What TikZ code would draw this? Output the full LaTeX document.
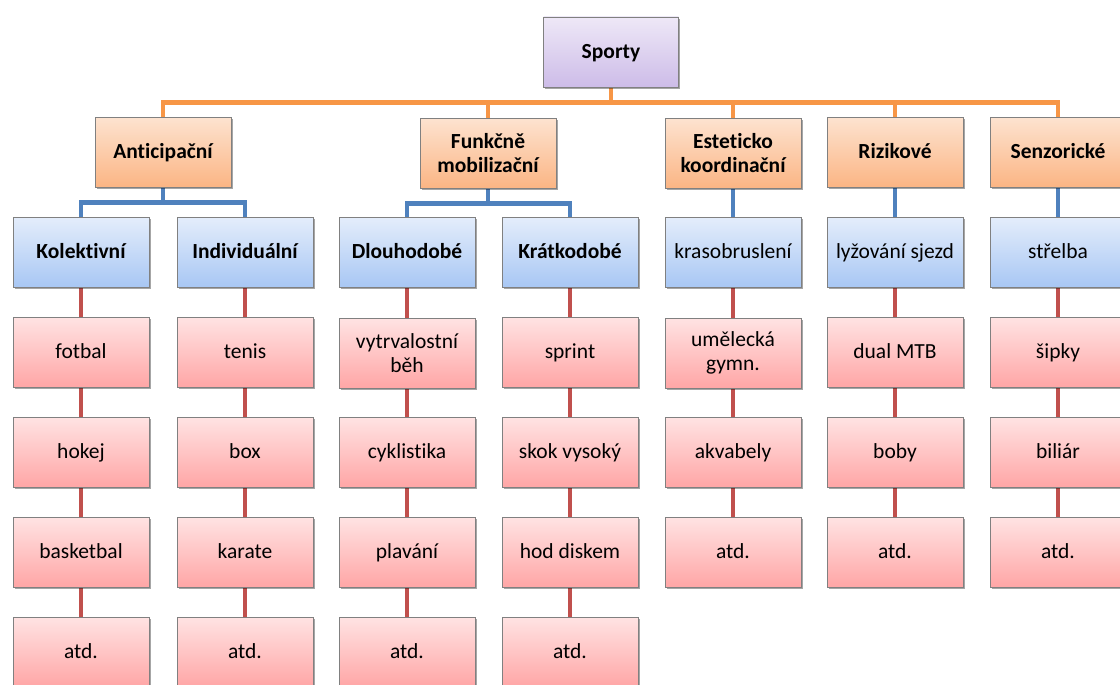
\documentclass[tikz,border=0pt]{standalone}
\usepackage{fontspec}
\setmainfont[Ligatures=NoCommon]{Carlito}
\usetikzlibrary{shadows}
\definecolor{lineO}{HTML}{F79646}
\definecolor{lineB}{HTML}{4F81BD}
\definecolor{lineR}{HTML}{C0504D}
\definecolor{purT}{HTML}{EEE8F7}
\definecolor{purB}{HTML}{CDBCE8}
\definecolor{orT}{HTML}{FDE3D0}
\definecolor{orB}{HTML}{FBB584}
\definecolor{blT}{HTML}{E4EDFB}
\definecolor{blB}{HTML}{A8C7F4}
\definecolor{piT}{HTML}{FFE3E3}
\definecolor{piB}{HTML}{FFA6A6}
\begin{document}
\begin{tikzpicture}[x=1pt,y=-1pt,
  boxbase/.style={draw=black!50, line width=0.9pt, minimum width=136pt, minimum height=70pt,
    align=center, font=\fontsize{21.5}{24}\selectfont, inner sep=2pt,
    text height=17pt, text depth=4pt,
    drop shadow={shadow xshift=1.5pt, shadow yshift=-2pt, opacity=0.35, fill=black}},
  twoline/.style={text height={}, text depth={}, yshift=-1pt},
  topbox/.style={boxbase, top color=purT, bottom color=purB, minimum width=135pt, font=\fontsize{21.5}{24}\selectfont\bfseries},
  catbox/.style={boxbase, top color=orT, bottom color=orB, font=\fontsize{21.5}{24}\selectfont\bfseries},
  subbox/.style={boxbase, top color=blT, bottom color=blB},
  subboxb/.style={subbox, font=\fontsize{21.5}{24}\selectfont\bfseries},
  leafbox/.style={boxbase, top color=piT, bottom color=piB},
  lo/.style={draw=lineO, line width=4.8pt},
  lb/.style={draw=lineB, line width=4.8pt},
  lr/.style={draw=lineR, line width=4.8pt}]
\useasboundingbox (0,0) rectangle (1120,685);
\clip (0,0) rectangle (1120,685);

% level 0
\node[topbox] (root) at (611,52) {Sporty};
% level 1
\node[catbox] (c1) at (163,152) {Anticipační};
\node[catbox, twoline] (c2) at (488,152) {Funkčně\\mobilizační};
\node[catbox, twoline] (c3) at (733,152) {Esteticko\\koordinační};
\node[catbox] (c4) at (895,152) {Rizikové};
\node[catbox] (c5) at (1058,152) {Senzorické};
% level 2
\node[subboxb] (s1) at (81,252) {Kolektivní};
\node[subboxb] (s2) at (245,252) {Individuální};
\node[subboxb] (s3) at (407,252) {Dlouhodobé};
\node[subboxb] (s4) at (570,252) {Krátkodobé};
\node[subbox] (s5) at (733,252) {krasobruslení};
\node[subbox] (s6) at (895,252) {lyžování sjezd};
\node[subbox] (s7) at (1058,252) {střelba};
% leaves
\node[leafbox] (a1) at (81,352) {fotbal};
\node[leafbox] (b1) at (81,452) {hokej};
\node[leafbox] (d1) at (81,552) {basketbal};
\node[leafbox] (e1) at (81,652) {atd.};
\node[leafbox] (a2) at (245,352) {tenis};
\node[leafbox] (b2) at (245,452) {box};
\node[leafbox] (d2) at (245,552) {karate};
\node[leafbox] (e2) at (245,652) {atd.};
\node[leafbox, twoline] (a3) at (407,352) {vytrvalostní\\běh};
\node[leafbox] (b3) at (407,452) {cyklistika};
\node[leafbox] (d3) at (407,552) {plavání};
\node[leafbox] (e3) at (407,652) {atd.};
\node[leafbox] (a4) at (570,352) {sprint};
\node[leafbox] (b4) at (570,452) {skok vysoký};
\node[leafbox] (d4) at (570,552) {hod diskem};
\node[leafbox] (e4) at (570,652) {atd.};
\node[leafbox, twoline] (a5) at (733,352) {umělecká\\gymn.};
\node[leafbox] (b5) at (733,452) {akvabely};
\node[leafbox] (d5) at (733,552) {atd.};
\node[leafbox] (a6) at (895,352) {dual MTB};
\node[leafbox] (b6) at (895,452) {boby};
\node[leafbox] (d6) at (895,552) {atd.};
\node[leafbox] (a7) at (1058,352) {šipky};
\node[leafbox] (b7) at (1058,452) {biliár};
\node[leafbox] (d7) at (1058,552) {atd.};

\pgfdeclarelayer{bg}\pgfsetlayers{bg,main}
\begin{pgfonlayer}{bg}
\foreach \c in {c1,c2,c3,c4,c5}{
  \draw[lo] (root.south) -- ++(0,15) -| (\c.north);
}
\draw[lb] (c1.south) -- ++(0,15) -| (s1.north);
\draw[lb] (c1.south) -- ++(0,15) -| (s2.north);
\draw[lb] (c2.south) -- ++(0,15) -| (s3.north);
\draw[lb] (c2.south) -- ++(0,15) -| (s4.north);
\draw[lb] (c3.south) -- (s5.north);
\draw[lb] (c4.south) -- (s6.north);
\draw[lb] (c5.south) -- (s7.north);
\foreach \i in {1,2,3,4}{
  \draw[lr] (s\i.south) -- (a\i.north);
  \draw[lr] (a\i.south) -- (b\i.north);
  \draw[lr] (b\i.south) -- (d\i.north);
  \draw[lr] (d\i.south) -- (e\i.north);
}
\foreach \i in {5,6,7}{
  \draw[lr] (s\i.south) -- (a\i.north);
  \draw[lr] (a\i.south) -- (b\i.north);
  \draw[lr] (b\i.south) -- (d\i.north);
}
\end{pgfonlayer}
\end{tikzpicture}
\end{document}
